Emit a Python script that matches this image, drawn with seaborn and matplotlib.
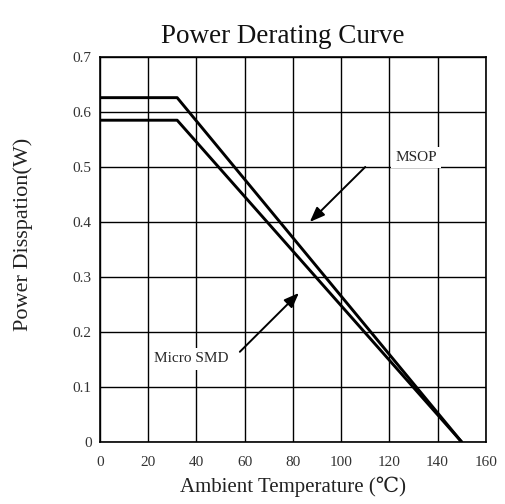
import numpy as np
import pandas as pd
import matplotlib
matplotlib.use('Agg')
import matplotlib.pyplot as plt
import seaborn as sns

# 数据
temp = [0, 32, 150]
msop_power = [0.626, 0.626, 0.0]
micro_smd_power = [0.585, 0.585, 0.0]

x_ticks = [0, 20, 40, 60, 80, 100, 120, 140, 160]
y_ticks = [0, 0.1, 0.2, 0.3, 0.4, 0.5, 0.6, 0.7]
y_tick_labels = ['0', '0.1', '0.2', '0.3', '0.4', '0.5', '0.6', '0.7']

df = pd.DataFrame({
    'temp': temp + temp,
    'power': msop_power + micro_smd_power,
    'package': ['MSOP'] * len(temp) + ['Micro SMD'] * len(temp),
})

sns.set_style('white')
plt.rcParams['font.family'] = ['Liberation Serif', 'DejaVu Serif', 'Noto Sans CJK SC']

fig = plt.figure(figsize=(5.05, 5.04), dpi=100)
ax = fig.add_axes([0.198, 0.123, 0.764, 0.764])

sns.lineplot(data=df, x='temp', y='power', hue='package',
             palette={'MSOP': 'black', 'Micro SMD': 'black'},
             linewidth=2.1, legend=False, ax=ax, zorder=3)

ax.set_xlim(0, 160)
ax.set_ylim(0, 0.7)
ax.set_xticks(x_ticks)
ax.set_yticks(y_ticks)
ax.set_yticklabels(y_tick_labels)
ax.tick_params(length=0, labelsize=11, colors='#333333')
ax.tick_params(axis='x', pad=10)
ax.tick_params(axis='y', pad=6)
ax.grid(True, color='black', linewidth=1.0)
for s in ax.spines.values():
    s.set_color('black')
    s.set_linewidth(1.2)

ax.set_xlabel('Ambient Temperature (℃)', fontsize=15, color='#222222')
ax.set_ylabel('Power Disspation(W)', fontsize=16, color='#222222')
ax.xaxis.set_label_coords(0.5, -0.09)
ax.yaxis.set_label_coords(-0.174, 0.538)
fig.text(0.56, 0.953, 'Power Derating Curve', fontsize=19.5,
         ha='center', va='top', color='#111111')

# 标注文字与箭头
box = dict(facecolor='white', edgecolor='none', pad=3)
arrow = dict(arrowstyle='-|>,head_length=0.9,head_width=0.35',
             color='black', lw=1.4, shrinkA=0, shrinkB=0)
ax.text(131, 0.517, 'MSOP', fontsize=11, ha='center', va='center', bbox=box, zorder=4)
ax.annotate('', xy=(87, 0.40), xytext=(110, 0.50), arrowprops=arrow, zorder=4)
ax.text(38, 0.151, 'Micro SMD', fontsize=11, ha='center', va='center', bbox=box, zorder=4)
ax.annotate('', xy=(82.5, 0.271), xytext=(58, 0.164), arrowprops=arrow, zorder=4)

fig.savefig('out.png', dpi=100)
